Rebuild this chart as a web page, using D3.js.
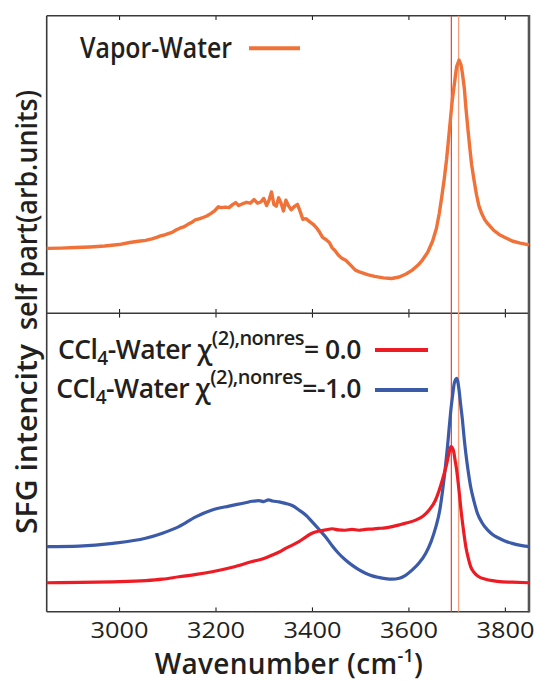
<!DOCTYPE html>
<html><head><meta charset="utf-8">
<script src="https://cdn.jsdelivr.net/npm/d3@7"></script>
<style>
html,body{margin:0;padding:0;background:#fff;}
svg{display:block;font-family:"Open Sans","Noto Sans",sans-serif;}
</style></head>
<body><svg id="c" width="535" height="682"></svg>
<script>
// ---- data ----
const xTicks = [3000, 3200, 3400, 3600, 3800];
const vLines = [3689, 3704];

const vaporWn  = [2850,2880,2910,2940,2970,3000,3022,3040,3055,3068,3078,3086,3094,3102,3110,3118,3126,3134,3142,3150,3158,3166,3174,3182,3190,3198,3206,3212,3220,3228,3236,3242,3248,3256,3264,3272,3280,3287,3294,3300,3306,3311,3316,3321,3326,3331,3336,3341,3346,3351,3357,3363,3370,3376,3381,3388,3395,3402,3409,3416,3422,3429,3436,3442,3448,3455,3462,3470,3480,3490,3500,3515,3530,3548,3565,3581,3595,3608,3620,3629,3640,3650,3658,3664,3669,3674,3679,3683,3687,3691,3696,3700,3705,3709,3712,3716,3719,3723,3727,3731,3736,3741,3746,3752,3758,3764,3776,3788,3800,3815,3832,3850];
const vaporVal = [2.18,2.19,2.21,2.23,2.26,2.31,2.38,2.42,2.45,2.50,2.55,2.60,2.63,2.68,2.72,2.80,2.86,2.90,2.98,3.05,3.14,3.17,3.22,3.27,3.35,3.44,3.58,3.55,3.57,3.55,3.66,3.72,3.62,3.68,3.73,3.70,3.82,3.70,3.74,3.86,3.62,3.80,4.08,3.66,3.60,3.88,3.70,3.44,3.80,3.62,3.48,3.58,3.66,3.40,3.16,3.18,3.08,3.00,2.88,2.72,2.55,2.48,2.38,2.20,2.10,1.95,1.85,1.78,1.62,1.45,1.38,1.30,1.24,1.19,1.17,1.22,1.32,1.45,1.62,1.79,2.05,2.42,2.85,3.36,3.90,4.48,5.15,5.82,6.50,7.17,7.80,8.29,8.51,8.35,8.06,7.55,6.94,6.25,5.60,5.00,4.48,4.00,3.62,3.35,3.15,3.02,2.80,2.65,2.55,2.43,2.36,2.30];

const ccl0Wn  = [2850,2920,2987,3055,3090,3124,3160,3193,3235,3276,3300,3318,3332,3345,3360,3373,3387,3400,3414,3428,3442,3455,3469,3483,3497,3511,3525,3538,3552,3566,3581,3593,3615,3630,3643,3655,3664,3671,3678,3684,3688,3693,3697,3700,3705,3709,3714,3719,3724,3729,3737,3746,3760,3774,3795,3815,3850];
const ccl0Val = [0.97,0.98,1.00,1.04,1.09,1.17,1.25,1.34,1.49,1.68,1.78,1.90,2.00,2.12,2.24,2.35,2.50,2.63,2.70,2.74,2.78,2.74,2.73,2.76,2.73,2.76,2.77,2.79,2.81,2.85,2.91,2.96,3.07,3.20,3.41,3.70,4.08,4.45,4.86,5.30,5.53,5.42,5.05,4.75,4.05,3.41,2.75,2.18,1.80,1.51,1.30,1.17,1.09,1.04,1.00,0.99,0.97];

const ccl1Wn  = [2850,2917,2987,3055,3090,3124,3159,3193,3228,3262,3276,3290,3300,3310,3318,3332,3345,3360,3373,3387,3400,3414,3428,3441,3455,3469,3483,3497,3511,3525,3538,3552,3566,3581,3594,3608,3622,3636,3647,3657,3665,3671,3676,3681,3685,3688,3692,3695,3700,3705,3708,3712,3715,3719,3724,3729,3736,3743,3752,3764,3775,3788,3800,3815,3830,3850];
const ccl1Val = [2.18,2.20,2.29,2.46,2.63,2.85,3.18,3.41,3.54,3.65,3.70,3.72,3.69,3.75,3.71,3.68,3.63,3.55,3.41,3.24,3.02,2.77,2.51,2.23,1.96,1.74,1.56,1.41,1.29,1.20,1.15,1.11,1.09,1.12,1.22,1.40,1.63,1.96,2.35,2.85,3.40,4.08,4.75,5.53,6.25,6.76,7.30,7.65,7.82,7.43,6.98,6.42,5.90,5.31,4.70,4.19,3.70,3.30,3.00,2.74,2.58,2.46,2.37,2.29,2.23,2.18];

const vaporLabel = "Vapor-Water";
const cclLabelValues = ["= 0.0", "=-1.0"];
const yTitleA = "SFG intencity";
const yTitleB = "self part(arb.units)";

// ---- layout ----
const L = 46.7, R = 529, T = 15.7, M = 313.3, B = 611.7;
const colVapor = "#f07238", colRed = "#ed1c24", colBlue = "#3b5ba9", ink = "#231f20";

const svg = d3.select("#c");
const x = d3.scaleLinear().domain([2850, 3850]).range([L, R]);
const yTop = d3.scaleLinear().domain([0, 10]).range([M, T]);
const yBot = d3.scaleLinear().domain([0, 10]).range([B, M]);

// axes (ticks inward)
function ax(gen, y, labels){
  const g = svg.append("g").attr("transform", `translate(0,${y})`)
    .call(gen(x).tickValues(xTicks).tickSize(-4.3).tickSizeOuter(0).tickPadding(12)
      .tickFormat(labels ? d3.format("d") : ""));
  g.select(".domain").remove();
  g.selectAll(".tick line").attr("stroke", ink).attr("stroke-width", 1.1);
  return g;
}
ax(d3.axisTop, T, false);
ax(d3.axisBottom, M, false);
ax(d3.axisTop, M, false);
const gb = ax(d3.axisBottom, B, true);
gb.selectAll(".tick text").attr("fill", ink).attr("font-size", 22).attr("font-weight", 500)
  .attr("font-family", "'Open Sans', sans-serif")
  .attr("dy", null).attr("y", 26.3)
  .attr("textLength", 58).attr("lengthAdjust", "spacingAndGlyphs");

// frames
const frame = svg.append("g").attr("stroke", "#3a3a3a").attr("fill", "none");
frame.append("line").attr("x1", L).attr("x2", R).attr("y1", T).attr("y2", T).attr("stroke-width", 1.6);
frame.append("line").attr("x1", L).attr("x2", R).attr("y1", M).attr("y2", M).attr("stroke-width", 1.6);
frame.append("line").attr("x1", L).attr("x2", R).attr("y1", B).attr("y2", B).attr("stroke-width", 1.6);
frame.append("line").attr("x1", L).attr("x2", L).attr("y1", T).attr("y2", B).attr("stroke-width", 1.6);
frame.append("line").attr("x1", R).attr("x2", R).attr("y1", T - 0.8).attr("y2", B + 0.8).attr("stroke-width", 2.6).attr("stroke", "#555");

// vertical reference lines
svg.append("line").attr("x1", x(vLines[0])).attr("x2", x(vLines[0])).attr("y1", T).attr("y2", B)
  .attr("stroke", "#ef3b3b").attr("stroke-width", 1.2);
svg.append("line").attr("x1", x(vLines[1])).attr("x2", x(vLines[1])).attr("y1", T).attr("y2", B)
  .attr("stroke", "#f3a07c").attr("stroke-width", 1.4);

// curves
function curve(wn, val, ys, col, w, cv){
  const pts = wn.map((d, i) => [d, val[i]]);
  svg.append("path").datum(pts)
    .attr("d", d3.line().x(d => x(d[0])).y(d => ys(d[1])).curve(cv))
    .attr("fill", "none").attr("stroke", col).attr("stroke-width", w)
    .attr("stroke-linejoin", "round");
}
curve(vaporWn, vaporVal, yTop, colVapor, 3.4, d3.curveLinear);
curve(ccl1Wn, ccl1Val, yBot, colBlue, 3.2, d3.curveMonotoneX);
curve(ccl0Wn, ccl0Val, yBot, colRed, 3.2, d3.curveMonotoneX);

// legends
svg.append("text").attr("x", 80).attr("y", 57.7).attr("fill", ink)
  .attr("font-size", 28).attr("font-weight", 600)
  .attr("textLength", 152).attr("lengthAdjust", "spacingAndGlyphs").text(vaporLabel);
svg.append("line").attr("x1", 249).attr("x2", 300).attr("y1", 48.3).attr("y2", 48.3)
  .attr("stroke", colVapor).attr("stroke-width", 4);

const cclCols = [colRed, colBlue];
const cclBase = [359, 398];
const cclLineY = [350, 390];
cclLabelValues.forEach((v, i) => {
  const t = svg.append("text").attr("x", 361).attr("y", cclBase[i]).attr("text-anchor", "end")
    .attr("fill", ink).attr("font-size", 26.5).attr("font-weight", 600).attr("letter-spacing", -0.5);
  t.append("tspan").text("CCl");
  t.append("tspan").attr("font-size", 19).attr("dy", 6).text("4");
  t.append("tspan").attr("dy", -6).text("-Water \u03c7");
  t.append("tspan").attr("font-size", 20).attr("dy", -14).text("(2),nonres");
  t.append("tspan").attr("dy", 14).text(v);
  svg.append("line").attr("x1", 375).attr("x2", 428).attr("y1", cclLineY[i]).attr("y2", cclLineY[i])
    .attr("stroke", cclCols[i]).attr("stroke-width", 4);
});

// axis titles
const xt = svg.append("text").attr("x", 289).attr("y", 674).attr("text-anchor", "middle")
  .attr("fill", ink).attr("font-size", 28).attr("font-weight", 600).attr("letter-spacing", 0.3);
xt.append("tspan").text("Wavenumber (cm");
xt.append("tspan").attr("font-size", 18).attr("dy", -12).text("-1");
xt.append("tspan").attr("dy", 12).text(")");

svg.append("text").attr("transform", "translate(36.5,534) rotate(-90)")
  .attr("fill", ink).attr("font-size", 28).attr("font-weight", 600)
  .attr("textLength", 190).attr("lengthAdjust", "spacingAndGlyphs").text(yTitleA);
svg.append("text").attr("transform", "translate(36.5,330) rotate(-90)")
  .attr("fill", ink).attr("font-size", 28).attr("font-weight", 600)
  .attr("textLength", 240).attr("lengthAdjust", "spacingAndGlyphs").text(yTitleB);
</script></body></html>
